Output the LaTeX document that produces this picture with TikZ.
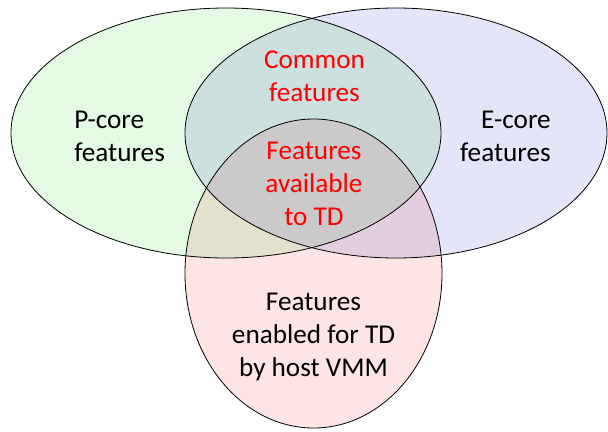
\documentclass[tikz,border=0pt]{standalone}
\usepackage{fontspec}
\setmainfont{Carlito}
\usepackage{xcolor}
\usepackage{tikz}
\usetikzlibrary{positioning}
\definecolor{pcorefill}{RGB}{229,250,229}
\definecolor{ecorefill}{RGB}{229,229,250}
\definecolor{vmmfill}{RGB}{253,229,229}
\begin{document}
\begin{tikzpicture}[x=.75pt,y=-.75pt]
\tikzset{set/.style={line width=.6pt,draw=black},
label/.style={inner sep=0pt,font=\fontsize{20.4}{24.75}\selectfont},
hot/.style={label,text=red,align=center}}
\useasboundingbox (0,0) rectangle (608,432);
% fills, mixed where they overlap
\begin{scope}[blend mode=multiply]
\fill[pcorefill] (226,133) ellipse (215 and 125);
\fill[ecorefill] (396,133) ellipse (211 and 125);
\fill[vmmfill] (313.5,273.5) ellipse (128.5 and 154.5);
\end{scope}
% outlines
\draw[set] (226,133) ellipse (215 and 125);
\draw[set] (396,133) ellipse (211 and 125);
\draw[set] (313.5,273.5) ellipse (128.5 and 154.5);
% texts
\node[label,align=left,anchor=west] (pcore) at (74,136) {P-core\\features};
\node[label,align=right,anchor=east] (ecore) at (551,136) {E-core\\features};
\node[hot] (common) at (314.5,76) {Common\\features};
\node[hot] (avail) at (314,184) {Features\\available\\to TD};
\node[label,align=center] (vmm) at (313.5,337) {Features\\enabled for TD\\by host VMM};
\end{tikzpicture}
\end{document}
